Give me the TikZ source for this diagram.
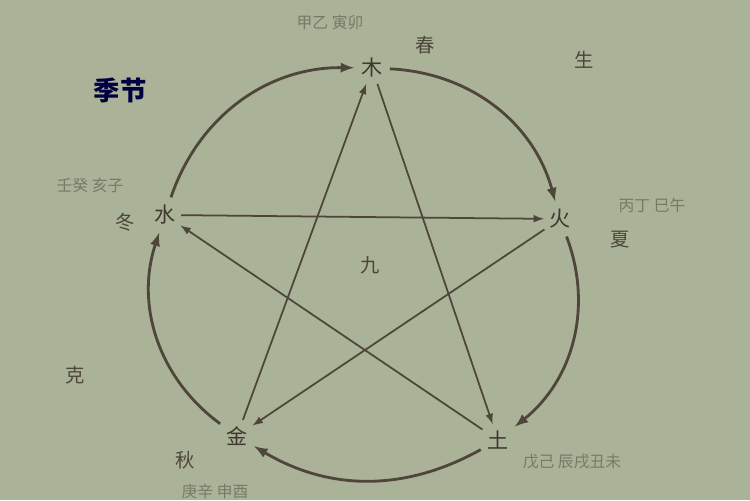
\documentclass[tikz,border=0pt]{standalone}
\usepackage{xcolor}
\usepackage{fontspec}
\usepackage{tikz}
\usetikzlibrary{positioning,shapes,arrows}
\newfontfamily\cjk{Noto Sans CJK SC}
\definecolor{paper}{RGB}{170,178,152}
\definecolor{ink}{RGB}{78,70,58}
\definecolor{faint}{RGB}{120,122,104}

\begin{document}
\begin{tikzpicture}[x=0.02cm,y=0.02cm,
        every node/.style = {font=\cjk\fontsize{11}{11}\selectfont, text=ink, inner sep=1pt},
        element/.style = {font=\cjk\fontsize{12}{12}\selectfont, text=ink!80!black, minimum size=14pt},
        stem/.style = {font=\cjk\fontsize{9}{9}\selectfont, text=faint},
        cycle/.style = {draw=ink, line width=1.6pt, -latex, shorten >=3pt, shorten <=3pt},
        star/.style = {draw=ink, line width=1pt, -latex, shorten >=2pt, shorten <=2pt}]
        \fill[paper] (0,0) rectangle (750,500);
        \useasboundingbox (0,0) rectangle (750,500);
        % five elements
        \node[element] (mu) at (372,432) {木};
        \node[element] (huo) at (560,281) {火};
        \node[element] (tu) at (498,60) {土};
        \node[element] (jin) at (237,64) {金};
        \node[element] (shui) at (165,285) {水};
        % generating circle
        \draw[cycle] (mu) to[bend left=36] (huo);
        \draw[cycle] (huo) to[bend left=36] (tu);
        \draw[cycle] (tu) to[bend left=30] (jin);
        \draw[cycle] (jin) to[bend left=36] (shui);
        \draw[cycle] (shui) to[bend left=36] (mu);
        % overcoming star
        \draw[star] (mu) -- (tu);
        \draw[star] (tu) -- (shui);
        \draw[star] (shui) -- (huo);
        \draw[star] (huo) -- (jin);
        \draw[star] (jin) -- (mu);
        % texts
        \node[font=\cjk\bfseries\fontsize{15}{15}\selectfont, text=black!75!blue] (season) at (120,410) {季节};
        \node[stem] (mustem) at (330,478) {甲乙\ 寅卯};
        \node (chun) at (425,455) {春};
        \node (sheng) at (584,440) {生};
        \node[stem] (shuistem) at (90,315) {壬癸\ 亥子};
        \node (dong) at (125,278) {冬};
        \node[stem] (huostem) at (652,295) {丙丁\ 巳午};
        \node (xia) at (620,260) {夏};
        \node (mid) at (370,235) {九};
        \node (ke) at (75,125) {克};
        \node (qiu) at (185,40) {秋};
        \node[stem] (jinstem) at (215,9) {庚辛\ 申酉};
        \node[stem] (tustem) at (572,38) {戊己\ 辰戌丑未};
\end{tikzpicture}
\end{document}
